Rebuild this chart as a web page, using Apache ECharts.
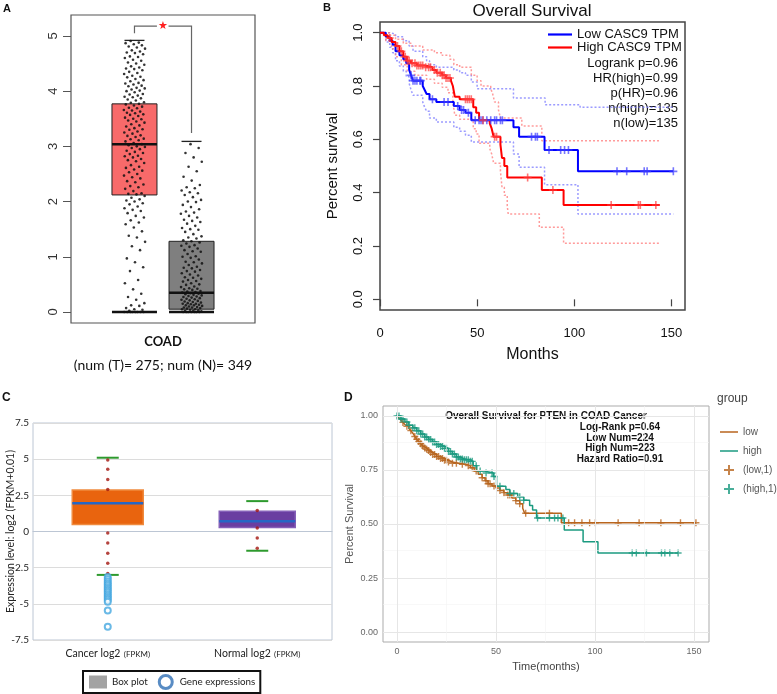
<!DOCTYPE html>
<html><head><meta charset="utf-8">
<script src="https://cdn.jsdelivr.net/npm/echarts@6/dist/echarts.min.js"></script>
<style>html,body{margin:0;padding:0;background:#fff}#c{width:777px;height:694px}</style>
</head><body><div id="c"></div>
<script>
// ---------------- Panel A data ----------------
const A_categories = ['COAD'];
const A_caption = '(num (T)= 275; num (N)= 349';
const A_yTicks = [0, 1, 2, 3, 4, 5];
const A_tumorBox = [0, 2.12, 3.04, 3.77, 4.92];   // min, q1, median, q3, max
const A_normalBox = [0, 0.05, 0.35, 1.28, 3.09];
const A_sigBracket = [5.05, 5.18, 3.24];           // left arm end, top, right arm end
const A_tumorValues = [0,0,0,0,0,0,0,0,0.02,0.04,0.05,0.07,0.11,0.12,0.16,0.22,0.27,0.33,0.41,0.52,0.58,0.74,0.81,0.9,0.97,1.12,1.19,1.27,1.35,1.38,1.46,1.53,1.59,1.62,1.66,1.71,1.74,1.79,1.83,1.85,1.88,1.91,1.95,1.97,2.0,2.02,2.04,2.07,2.1,2.13,2.14,2.15,2.19,2.23,2.26,2.28,2.31,2.35,2.37,2.42,2.44,2.47,2.5,2.53,2.56,2.58,2.61,2.63,2.66,2.7,2.73,2.75,2.77,2.8,2.82,2.83,2.86,2.88,2.9,2.92,2.95,2.97,2.99,3.0,3.02,3.04,3.06,3.09,3.11,3.13,3.14,3.17,3.19,3.2,3.23,3.25,3.27,3.3,3.31,3.33,3.36,3.38,3.4,3.43,3.45,3.47,3.49,3.5,3.52,3.55,3.57,3.58,3.6,3.61,3.63,3.65,3.66,3.69,3.7,3.72,3.74,3.76,3.77,3.79,3.8,3.83,3.85,3.87,3.89,3.9,3.92,3.94,3.95,3.98,4.0,4.01,4.03,4.05,4.06,4.09,4.1,4.12,4.14,4.15,4.18,4.2,4.22,4.25,4.26,4.28,4.31,4.33,4.35,4.38,4.4,4.41,4.43,4.45,4.48,4.5,4.52,4.55,4.57,4.6,4.62,4.63,4.67,4.69,4.7,4.72,4.74,4.77,4.79,4.81,4.83,4.85,4.87,4.88,4.91];
const A_normalValues = [0,0,0,0,0,0,0,0.01,0.02,0.02,0.03,0.04,0.05,0.05,0.06,0.07,0.08,0.08,0.09,0.1,0.11,0.12,0.12,0.13,0.14,0.15,0.15,0.16,0.17,0.18,0.19,0.2,0.21,0.22,0.23,0.24,0.25,0.26,0.27,0.28,0.29,0.3,0.31,0.32,0.33,0.34,0.35,0.36,0.37,0.38,0.4,0.41,0.42,0.43,0.45,0.46,0.49,0.5,0.52,0.55,0.56,0.58,0.6,0.62,0.63,0.66,0.68,0.7,0.73,0.74,0.76,0.79,0.8,0.82,0.85,0.88,0.9,0.91,0.95,0.98,1.0,1.01,1.05,1.09,1.1,1.12,1.15,1.18,1.2,1.21,1.24,1.26,1.28,1.3,1.33,1.35,1.37,1.41,1.45,1.49,1.5,1.52,1.56,1.6,1.63,1.65,1.67,1.71,1.74,1.78,1.8,1.82,1.86,1.9,1.94,1.99,2.0,2.03,2.08,2.12,2.15,2.17,2.2,2.24,2.26,2.3,2.38,2.45,2.55,2.63,2.72,2.8,2.88,2.97,3.04];

// ---------------- Panel B data ----------------
const B_title = 'Overall Survival';
const B_xTicks = [0, 50, 100, 150];
const B_yTicks = [0, 0.2, 0.4, 0.6, 0.8, 1];
const B_lowKM = [[0,1],[3,0.985],[5,0.97],[6.5,0.955],[8,0.93],[10,0.915],[12,0.9],[13.5,0.885],[15,0.86],[16,0.84],[17,0.82],[22,0.8],[23,0.785],[24,0.77],[25.5,0.75],[29,0.74],[38,0.725],[41,0.71],[44,0.7],[47,0.672],[68.7,0.645],[71.6,0.61],[84.7,0.56],[101.9,0.48],[151,0.48]];
const B_highKM = [[0,1],[2,0.99],[4,0.98],[6,0.965],[8,0.95],[10,0.93],[12,0.91],[14,0.895],[16,0.885],[19,0.877],[23,0.87],[27,0.86],[29,0.85],[32,0.84],[34,0.83],[36.5,0.82],[37.5,0.8],[38.5,0.76],[41,0.75],[48,0.72],[49.5,0.7],[51,0.672],[56.5,0.66],[57.5,0.64],[58.5,0.61],[62,0.58],[62.8,0.53],[64,0.5],[65.5,0.457],[83.3,0.41],[94.5,0.354],[144,0.354]];
const B_lowUpper = [[0,1],[5,0.995],[8,0.985],[12,0.97],[15,0.95],[17,0.93],[22,0.91],[24,0.895],[25.5,0.88],[29,0.87],[38,0.86],[41,0.85],[44,0.84],[47,0.815],[50,0.79],[68.7,0.755],[85,0.73],[103,0.72],[151,0.72]];
const B_lowLower = [[0,1],[3,0.965],[5,0.945],[6.5,0.925],[8,0.895],[10,0.875],[12,0.855],[13.5,0.835],[15,0.81],[16,0.785],[17,0.765],[22,0.74],[23,0.72],[24,0.705],[25.5,0.68],[29,0.665],[38,0.645],[41,0.63],[44,0.615],[47,0.59],[68.7,0.545],[71.6,0.495],[84.7,0.43],[101.9,0.32],[151,0.32]];
const B_highUpper = [[0,1],[5,0.99],[8,0.975],[12,0.96],[16,0.95],[22,0.935],[28,0.925],[32,0.915],[36,0.9],[38,0.88],[41,0.87],[47,0.84],[50,0.82],[52,0.8],[57,0.79],[58,0.77],[59,0.74],[61,0.71],[62,0.68],[73,0.65],[83.3,0.595],[144,0.595]];
const B_highLower = [[0,1],[3,0.97],[6,0.94],[8,0.91],[11,0.88],[14,0.855],[18,0.84],[24,0.825],[28,0.81],[32,0.795],[35,0.775],[37.5,0.74],[38.5,0.69],[41,0.675],[48,0.64],[49.5,0.62],[51,0.585],[56.5,0.565],[57.5,0.545],[58.5,0.51],[62,0.48],[62.8,0.42],[64,0.39],[65.5,0.35],[66,0.32],[82,0.27],[94.5,0.21],[144,0.21]];
const B_lowCensor = [16,17,18,19,20.5,21,27,33,35,40,42,43,45.5,49,51,52,53,55,57,59,60,62,63,78,80,81,87,93,95,97,122,127,136,137.5,151];
const B_highCensor = [5,9,11,13,14,15,16.5,18,19,20,21,22,23.5,25,26,28,29.5,31,32,33,34,35,36,44,45,46,47,53,59,60,76,89,119,133,134,142];
const B_stats = ['Logrank p=0.96','HR(high)=0.99','p(HR)=0.96','n(high)=135','n(low)=135'];

// ---------------- Panel C data ----------------
const C_categories = ['Cancer log2 (FPKM)', 'Normal log2 (FPKM)'];
const C_boxStats = [[-3.0, 0.49, 1.96, 2.87, 5.1], [-1.33, 0.28, 0.7, 1.4, 2.1]]; // lower whisker, q1, median, q3, upper whisker
const C_dotsCancer = [4.95, 4.3, 3.6, 2.9, -0.1, -0.8, -1.5, -2.2, -2.9];
const C_dotsNormal = [1.45, 0.25, -0.45, -1.15];
const C_outliersCancer = [-3.15,-3.3,-3.45,-3.6,-3.72,-3.85,-3.98,-4.1,-4.22,-4.35,-4.48,-4.6,-4.72,-4.85,-5.46,-6.58];

// ---------------- Panel D data ----------------
const D_title = 'Overall Survival for PTEN in COAD Cancer';
const D_stats = ['Log-Rank p=0.64','Low Num=224','High Num=223','Hazard Ratio=0.91'];
const D_xTicks = [0, 50, 100, 150];
const D_yTicks = [0, 0.25, 0.5, 0.75, 1];
const D_xMinor = [25, 75, 125];
const D_yMinor = [0.125, 0.375, 0.625, 0.875];
const D_lowKM = [[0,1],[1,0.99],[2,0.98],[3,0.97],[4,0.96],[5,0.952],[6,0.942],[7,0.932],[8,0.92],[9,0.905],[10,0.892],[11,0.882],[12,0.871],[13,0.861],[14,0.852],[15,0.846],[16,0.84],[17,0.831],[18,0.822],[20,0.812],[22,0.803],[24,0.795],[26,0.787],[28,0.781],[31,0.776],[35,0.77],[37,0.76],[39,0.745],[41,0.73],[43,0.714],[44.5,0.7],[46,0.686],[48,0.676],[50,0.666],[52,0.655],[54,0.645],[56,0.634],[58,0.62],[60,0.608],[62,0.594],[63.5,0.573],[64.5,0.55],[83,0.506],[151,0.506]];
const D_highKM = [[0,1],[2,0.986],[4,0.972],[6,0.957],[8,0.945],[10,0.931],[12,0.916],[14,0.902],[16,0.891],[18,0.88],[20,0.868],[22,0.859],[24,0.85],[26,0.836],[28,0.824],[30,0.81],[32,0.801],[34,0.797],[37,0.79],[38.5,0.77],[40.3,0.745],[44,0.736],[48.7,0.72],[50.3,0.675],[55,0.66],[57,0.641],[61,0.626],[64,0.61],[67,0.586],[68.5,0.565],[70.5,0.528],[84.5,0.472],[94,0.418],[101.5,0.366],[142,0.366]];
const D_lowCensor = [3,5,7,9,10,11,12,13,14,15,16,17,18,19,20,21,22,23,24,25,26,28,30,33,36,38,40,43,45,46,47,49,52,54,56,57,60,62,65,77,86.7,89.7,93.4,97.3,100.2,111.7,122.3,133.3,143.2,151];
const D_highCensor = [0,1,2,3,5,6,8,9,10,11,12,13,14,15,16,17,18,19,20,21,22,23,24,25,26,27,28,29,30,31,32,33,34,35,36,37,38,40,42,45,48,49,52,57,59,62,64,71,77,79.6,81.3,83.8,118.8,120.9,126,133.6,135.3,137.8,142];

// ---------------- helpers ----------------
const FR = '"Liberation Sans", Arial, sans-serif';
const FC = 'Lato, "Open Sans", sans-serif';
const PLUS = 'path://M4,0H6V4H10V6H6V10H4V6H0V4H4Z';
const LINE_B = 'path://M0,0H24V2.2H0Z';
const LINE_D = 'path://M0,0H18V1.5H0Z';
function survAt(km, t) { let s = km[0][1]; for (const p of km) { if (p[0] <= t) s = p[1]; else break; } return s; }
function censorPts(km, times) { return times.map(t => [t, survAt(km, t)]); }
function jit(i) { return ((i * 0.618034 + 0.31) % 1) * 2 - 1; }

const A_tumorX = 0.345, A_normalX = 0.655, A_jitHalf = 0.058;

function aBox(stats, cx, fill) {
  return {
    type: 'custom', xAxisIndex: 0, yAxisIndex: 0, z: 2, silent: true,
    data: [[cx].concat(stats)],
    renderItem: (params, api) => {
      const x = api.coord([api.value(0), 0])[0];
      const y = i => api.coord([api.value(0), api.value(i)])[1];
      const hw = 22.5, cap = 10;
      return { type: 'group', children: [
        { type: 'rect', shape: { x: x - hw, y: y(4), width: 2 * hw, height: y(2) - y(4) }, style: { fill: fill, stroke: '#222', lineWidth: 1 } },
        { type: 'line', shape: { x1: x - hw, y1: y(3), x2: x + hw, y2: y(3) }, style: { stroke: '#111', lineWidth: 2.5 } },
        { type: 'line', shape: { x1: x - cap, y1: y(5), x2: x + cap, y2: y(5) }, style: { stroke: '#222', lineWidth: 1.3 } },
        { type: 'line', shape: { x1: x - hw, y1: y(1), x2: x + hw, y2: y(1) }, style: { stroke: '#111', lineWidth: 2.5 } }
      ]};
    }
  };
}

const C_fill = ['#E9640E', '#6A3EA1'];
const C_stroke = ['#F08A3E', '#8560B8'];
const C_halfW = [35.5, 38];

const chart = echarts.init(document.getElementById('c'), null, { renderer: 'canvas' });

const option = {
  backgroundColor: '#fff',
  animation: false,
  grid: [
    { left: 71, top: 15, width: 184, height: 308, show: true, borderColor: '#555', borderWidth: 1.2, backgroundColor: 'transparent', outerBoundsMode: 'none' },
    { left: 380, top: 22, width: 305, height: 288, show: true, borderColor: '#444', borderWidth: 1.5, backgroundColor: 'transparent', outerBoundsMode: 'none' },
    { left: 33, top: 423, width: 299, height: 217, show: true, borderColor: '#BCC6D4', borderWidth: 1, backgroundColor: 'transparent', outerBoundsMode: 'none' },
    { left: 383, top: 406, width: 326, height: 236, show: true, borderColor: '#ABABAB', borderWidth: 1, backgroundColor: 'transparent', outerBoundsMode: 'none' }
  ],
  xAxis: [
    { gridIndex: 0, type: 'value', min: 0, max: 1, show: false },
    { gridIndex: 0, type: 'category', data: A_categories, position: 'bottom',
      axisLine: { show: false }, splitLine: { show: false },
      axisTick: { alignWithLabel: true, length: 7, lineStyle: { color: '#555' } },
      axisLabel: { margin: 10, formatter: v => '{a|' + v + '}\n{b|' + A_caption + '}',
        rich: { a: { fontFamily: FC, fontWeight: 'bold', fontSize: 13, color: '#111', lineHeight: 18 },
                b: { fontFamily: FC, fontSize: 14, color: '#111', lineHeight: 28 } } } },
    { gridIndex: 1, type: 'value', min: 0, max: 157, axisLine: { show: false }, splitLine: { show: false },
      axisTick: { customValues: B_xTicks, length: 7, lineStyle: { color: '#444', width: 1.2 } },
      axisLabel: { customValues: B_xTicks, margin: 17, fontSize: 13, color: '#111', fontFamily: FR },
      name: 'Months', nameLocation: 'middle', nameGap: 37, nameTextStyle: { fontSize: 16, color: '#111', fontFamily: FR } },
    { gridIndex: 2, type: 'category', data: C_categories,
      axisLine: { lineStyle: { color: '#BCC6D4' } },
      axisTick: { alignWithLabel: true, length: 8, lineStyle: { color: '#444' } },
      axisLabel: { interval: 0, margin: 8, formatter: v => { const k = v.indexOf(' ('); return '{a|' + v.slice(0, k) + '} {b|' + v.slice(k + 1) + '}'; },
        rich: { a: { fontFamily: FC, fontSize: 10.5, color: '#222' }, b: { fontFamily: FC, fontSize: 8, color: '#222' } } } },
    { gridIndex: 3, type: 'value', min: -7.07, max: 157.6, axisLine: { show: false }, splitLine: { show: false },
      axisTick: { customValues: D_xTicks, length: 3, lineStyle: { color: '#777' } },
      axisLabel: { customValues: D_xTicks, margin: 5, fontSize: 9, color: '#666', fontFamily: FR },
      name: 'Time(months)', nameLocation: 'middle', nameGap: 19, nameTextStyle: { fontSize: 11, color: '#444', fontFamily: FR } }
  ],
  yAxis: [
    { gridIndex: 0, type: 'value', min: -0.2, max: 5.38, axisLine: { show: false }, splitLine: { show: false },
      axisTick: { customValues: A_yTicks, length: 8, lineStyle: { color: '#555' } },
      axisLabel: { customValues: A_yTicks, rotate: 90, margin: 11, fontSize: 13, color: '#333', fontFamily: FR } },
    { gridIndex: 1, type: 'value', min: -0.04, max: 1.04, axisLine: { show: false }, splitLine: { show: false },
      axisTick: { customValues: B_yTicks, length: 7, lineStyle: { color: '#444', width: 1.2 } },
      axisLabel: { customValues: B_yTicks, rotate: 90, margin: 15, fontSize: 13, color: '#111', fontFamily: FR, formatter: v => v.toFixed(1) },
      name: 'Percent survival', nameLocation: 'middle', nameGap: 40, nameTextStyle: { fontSize: 15, color: '#111', fontFamily: FR } },
    { gridIndex: 2, type: 'value', min: -7.5, max: 7.5, interval: 2.5, axisLine: { show: false }, axisTick: { show: false },
      splitLine: { lineStyle: { color: '#DCDCDC' } },
      axisLabel: { margin: 4, fontSize: 10, color: '#222', fontFamily: FC },
      name: 'Expression level: log2 (FPKM+0.01)', nameLocation: 'middle', nameGap: 17, nameMoveOverlap: false,
      nameTextStyle: { fontSize: 10.5, color: '#222', fontFamily: FC } },
    { gridIndex: 3, type: 'value', min: -0.046, max: 1.046, axisLine: { show: false }, splitLine: { show: false },
      axisTick: { customValues: D_yTicks, length: 3, lineStyle: { color: '#777' } },
      axisLabel: { customValues: D_yTicks, margin: 5, fontSize: 9, color: '#666', fontFamily: FR, formatter: v => v.toFixed(2) },
      name: 'Percent Survival', nameLocation: 'middle', nameGap: 28, nameTextStyle: { fontSize: 11, color: '#555', fontFamily: FR } }
  ],
  legend: [
    { data: [ { name: 'Low CASC9 TPM', icon: LINE_B }, { name: 'High CASC9 TPM', icon: LINE_B } ],
      orient: 'vertical', left: 548, top: 28, padding: 0,
      itemWidth: 24, itemHeight: 8, itemGap: 0, selectedMode: false,
      textStyle: { fontSize: 13, fontFamily: FR, color: '#111', lineHeight: 12 } },
    { data: [ { name: 'Box plot', icon: 'rect', itemStyle: { color: '#A3A3A3', borderWidth: 0 } },
              { name: 'Gene expressions', icon: 'circle', itemStyle: { color: '#fff', borderColor: '#2F6FB5', borderWidth: 3 } } ],
      left: 83, top: 671, padding: [3, 5, 3, 6], borderColor: '#111', borderWidth: 2, itemGap: 10, itemWidth: 18, itemHeight: 13,
      selectedMode: false, textStyle: { fontSize: 9.8, fontFamily: FC, color: '#222' } },
    { data: [ { name: 'low', icon: LINE_D }, { name: 'high', icon: LINE_D }, '(low,1)', '(high,1)' ],
      orient: 'vertical', left: 720, top: 427, padding: 0,
      itemWidth: 18, itemHeight: 10, itemGap: 9, selectedMode: false,
      textStyle: { fontSize: 10, fontFamily: FR, color: '#555' } }
  ],
  series: [
    // ---- A ----
    aBox(A_tumorBox, A_tumorX, '#F86A6A'),
    aBox(A_normalBox, A_normalX, '#7F7F7F'),
    { type: 'scatter', name: 'Tumor samples', xAxisIndex: 0, yAxisIndex: 0, z: 3, symbolSize: 2.6,
      itemStyle: { color: '#111', opacity: 0.85 },
      data: A_tumorValues.map((v, i) => [A_tumorX + jit(i) * A_jitHalf, v]) },
    { type: 'scatter', name: 'Normal samples', xAxisIndex: 0, yAxisIndex: 0, z: 3, symbolSize: 2.6,
      itemStyle: { color: '#111', opacity: 0.85 },
      data: A_normalValues.map((v, i) => [A_normalX + jit(i + 7) * A_jitHalf, v]) },
    { type: 'custom', name: 'Significance', xAxisIndex: 0, yAxisIndex: 0, z: 4, silent: true,
      data: [A_sigBracket],
      renderItem: (params, api) => {
        const b = [api.value(0), api.value(1), api.value(2)];
        const c = (x, y) => api.coord([x, y]);
        const st = { stroke: '#666', lineWidth: 1.2, fill: null };
        return { type: 'group', children: [
          { type: 'polyline', shape: { points: [c(A_tumorX, b[0]), c(A_tumorX, b[1]), c(0.467, b[1])] }, style: st },
          { type: 'polyline', shape: { points: [c(0.53, b[1]), c(A_normalX, b[1]), c(A_normalX, b[2])] }, style: st },
          { type: 'text', x: c(0.5, b[1])[0], y: c(0.5, b[1])[1], style: { text: '★', fill: '#FF2020', fontSize: 11, align: 'center', verticalAlign: 'middle' } }
        ]};
      } },
    // ---- B ----
    { type: 'line', name: 'Low CASC9 TPM', xAxisIndex: 2, yAxisIndex: 1, step: 'end', symbol: 'none', z: 4,
      lineStyle: { color: '#0000FF', width: 2 }, itemStyle: { color: '#0000FF' }, data: B_lowKM },
    { type: 'line', name: 'High CASC9 TPM', xAxisIndex: 2, yAxisIndex: 1, step: 'end', symbol: 'none', z: 4,
      lineStyle: { color: '#FF0000', width: 2 }, itemStyle: { color: '#FF0000' }, data: B_highKM },
    { type: 'line', name: 'Low upper CI', xAxisIndex: 2, yAxisIndex: 1, step: 'end', symbol: 'none', z: 2,
      lineStyle: { color: '#7A7AFF', width: 1.5, type: [2, 2], opacity: 0.75 }, data: B_lowUpper },
    { type: 'line', name: 'Low lower CI', xAxisIndex: 2, yAxisIndex: 1, step: 'end', symbol: 'none', z: 2,
      lineStyle: { color: '#7A7AFF', width: 1.5, type: [2, 2], opacity: 0.75 }, data: B_lowLower },
    { type: 'line', name: 'High upper CI', xAxisIndex: 2, yAxisIndex: 1, step: 'end', symbol: 'none', z: 2,
      lineStyle: { color: '#FF7A7A', width: 1.5, type: [2, 2], opacity: 0.75 }, data: B_highUpper },
    { type: 'line', name: 'High lower CI', xAxisIndex: 2, yAxisIndex: 1, step: 'end', symbol: 'none', z: 2,
      lineStyle: { color: '#FF7A7A', width: 1.5, type: [2, 2], opacity: 0.75 }, data: B_highLower },
    { type: 'scatter', name: 'Low censored', xAxisIndex: 2, yAxisIndex: 1, z: 5, symbol: PLUS, symbolSize: 8,
      itemStyle: { color: '#3A3AFF', opacity: 0.7 }, data: censorPts(B_lowKM, B_lowCensor) },
    { type: 'scatter', name: 'High censored', xAxisIndex: 2, yAxisIndex: 1, z: 5, symbol: PLUS, symbolSize: 8,
      itemStyle: { color: '#FF3A3A', opacity: 0.7 }, data: censorPts(B_highKM, B_highCensor) },
    // ---- C ----
    { type: 'custom', name: 'Box plot', xAxisIndex: 3, yAxisIndex: 2, z: 2, silent: true,
      data: C_boxStats.map((s, i) => [i].concat(s)),
      renderItem: (params, api) => {
        const i = api.value(0);
        const x = api.coord([i, 0])[0];
        const y = k => api.coord([i, api.value(k)])[1];
        const hw = C_halfW[i], cap = 11;
        return { type: 'group', children: [
          { type: 'rect', shape: { x: x - hw, y: y(4), width: 2 * hw, height: y(2) - y(4) }, style: { fill: C_fill[i], stroke: C_stroke[i], lineWidth: 1.5 } },
          { type: 'line', shape: { x1: x - hw, y1: y(3), x2: x + hw, y2: y(3) }, style: { stroke: '#2566C4', lineWidth: 2.5 } },
          { type: 'line', shape: { x1: x - cap, y1: y(5), x2: x + cap, y2: y(5) }, style: { stroke: '#2E9A2E', lineWidth: 2 } },
          { type: 'line', shape: { x1: x - cap, y1: y(1), x2: x + cap, y2: y(1) }, style: { stroke: '#2E9A2E', lineWidth: 2 } }
        ]};
      } },
    { type: 'scatter', name: 'Sample points', xAxisIndex: 3, yAxisIndex: 2, z: 4, symbolSize: 3.5,
      itemStyle: { color: '#A3150F' },
      data: C_dotsCancer.map(v => [0, v]).concat(C_dotsNormal.map(v => [1, v])) },
    { type: 'scatter', name: 'Gene expressions', xAxisIndex: 3, yAxisIndex: 2, z: 4, symbol: 'emptyCircle', symbolSize: 6,
      itemStyle: { color: '#45A8E0', borderColor: '#45A8E0', borderWidth: 1.5 },
      data: C_outliersCancer.map(v => [0, v]) },
    // ---- D ----
    { type: 'line', name: 'D grid', xAxisIndex: 4, yAxisIndex: 3, z: 1, data: [], silent: true,
      markLine: { silent: true, symbol: 'none', label: { show: false }, animation: false,
        data: D_yTicks.map(v => ({ yAxis: v, lineStyle: { color: '#E6E6E6', width: 1, type: 'solid' } }))
          .concat(D_yMinor.map(v => ({ yAxis: v, lineStyle: { color: '#F3F3F3', width: 0.6, type: 'solid' } })))
          .concat(D_xTicks.map(v => ({ xAxis: v, lineStyle: { color: '#E6E6E6', width: 1, type: 'solid' } })))
          .concat(D_xMinor.map(v => ({ xAxis: v, lineStyle: { color: '#F3F3F3', width: 0.6, type: 'solid' } }))) } },
    { type: 'line', name: 'low', xAxisIndex: 4, yAxisIndex: 3, step: 'end', symbol: 'none', z: 3,
      lineStyle: { color: '#B8651E', width: 1.5 }, itemStyle: { color: '#B8651E' }, data: D_lowKM },
    { type: 'line', name: 'high', xAxisIndex: 4, yAxisIndex: 3, step: 'end', symbol: 'none', z: 3,
      lineStyle: { color: '#1B9A80', width: 1.5 }, itemStyle: { color: '#1B9A80' }, data: D_highKM },
    { type: 'scatter', name: '(low,1)', xAxisIndex: 4, yAxisIndex: 3, z: 4, symbol: PLUS, symbolSize: 7,
      itemStyle: { color: '#B8651E' }, data: censorPts(D_lowKM, D_lowCensor) },
    { type: 'scatter', name: '(high,1)', xAxisIndex: 4, yAxisIndex: 3, z: 4, symbol: PLUS, symbolSize: 7,
      itemStyle: { color: '#1B9A80' }, data: censorPts(D_highKM, D_highCensor) }
  ],
  graphic: [
    { type: 'text', x: 3, y: 3, style: { text: 'A', font: 'bold 11px ' + FR, fill: '#111' } },
    { type: 'text', x: 323, y: 2, style: { text: 'B', font: 'bold 11px ' + FR, fill: '#111' } },
    { type: 'text', x: 2, y: 392, style: { text: 'C', font: 'bold 12px ' + FR, fill: '#111' } },
    { type: 'text', x: 344, y: 392, style: { text: 'D', font: 'bold 12px ' + FR, fill: '#111' } },
    { type: 'text', x: 532, y: 3, style: { text: B_title, font: '17px ' + FR, fill: '#111', align: 'center', verticalAlign: 'top' } },
    { type: 'text', x: 678, y: 56, style: { text: B_stats.join('\n'), font: '13px ' + FR, fill: '#111', align: 'right', verticalAlign: 'top', lineHeight: 15 } },
    { type: 'text', x: 546, y: 416, style: { text: D_title, font: 'bold 10px ' + FR, fill: '#111', align: 'center', verticalAlign: 'middle' } },
    { type: 'text', x: 620, y: 422, style: { text: D_stats.join('\n'), font: 'bold 10px ' + FR, fill: '#111', align: 'center', verticalAlign: 'top', lineHeight: 10.6 } },
    { type: 'text', x: 717, y: 393, style: { text: 'group', font: '12px ' + FR, fill: '#444' } }
  ]
};
chart.setOption(option);
</script></body></html>
